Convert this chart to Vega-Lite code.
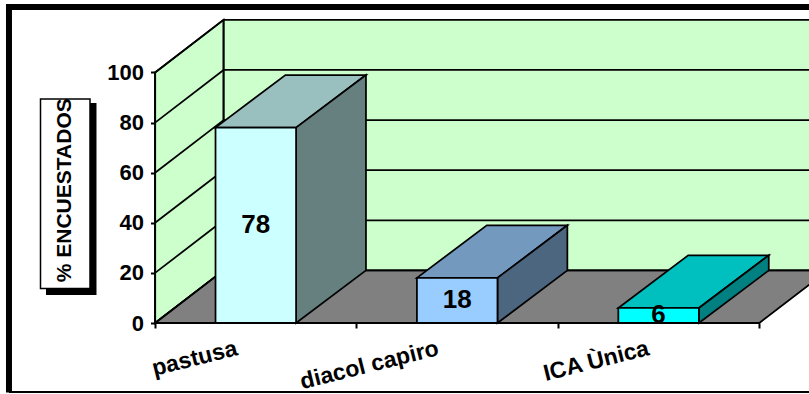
{"$schema":"https://vega.github.io/schema/vega-lite/v6.json","width":809,"height":394,"padding":0,"autosize":{"type":"none"},"background":"white","config":{"view":{"stroke":null},"font":"Liberation Sans"},"data":{"values":[{"frame":1}]},"datasets":{"bars":[{"category":"pastusa","order":0,"value":78},{"category":"diacol capiro","order":1,"value":18},{"category":"ICA Ùnica","order":2,"value":6}],"ticks":[{"tick":0},{"tick":20},{"tick":40},{"tick":60},{"tick":80},{"tick":100}],"steps":[{"step":0},{"step":1},{"step":2},{"step":3}],"depths":[{"depth":0},{"depth":1}]},"resolve":{"scale":{"color":"independent"}},"layer":[{"mark":{"type":"rect","fill":"#CCFFCC"},"encoding":{"x":{"datum":-0.16,"type":"quantitative"},"x2":{"datum":2.7468},"y":{"datum":21,"type":"quantitative"},"y2":{"datum":121}}},{"data":{"name":"depths"},"transform":[{"calculate":"-0.5+datum.depth*0.34","as":"px"},{"calculate":"datum.depth*21","as":"lo"},{"calculate":"100+datum.depth*21","as":"hi"}],"mark":{"type":"area","color":"#CCFFCC","stroke":"black","strokeWidth":1.75},"encoding":{"x":{"field":"px","type":"quantitative","scale":{"domain":[-1.2701,2.7468],"nice":false,"zero":false},"axis":{"values":[-0.5,0.5,1.5,2.5],"offset":-71,"labels":false,"domain":false,"grid":false,"title":null,"tickColor":"black","tickWidth":2,"tickSize":5}},"y":{"field":"hi","type":"quantitative","scale":{"domain":[-28.34,128.94],"nice":false,"zero":false},"axis":{"values":[0,20,40,60,80,100],"offset":-155.5,"domain":false,"grid":false,"title":null,"tickColor":"black","tickWidth":2,"tickSize":5,"labelFont":"Liberation Sans","labelFontWeight":"bold","labelFontSize":22,"labelColor":"black","labelPadding":7}},"y2":{"field":"lo"}}},{"data":{"name":"steps"},"transform":[{"calculate":"-0.5+(datum.step==0?0:datum.step==1?0.34:datum.step==2?3:3.34)","as":"px"},{"calculate":"datum.step==0?0:21","as":"hi"},{"calculate":"datum.step==3?21:0","as":"lo"}],"mark":{"type":"area","color":"#808080","stroke":"black","strokeWidth":1.75,"clip":true},"encoding":{"x":{"field":"px","type":"quantitative"},"y":{"field":"hi","type":"quantitative"},"y2":{"field":"lo"}}},{"data":{"name":"ticks"},"transform":[{"calculate":"datum.tick+21","as":"back"}],"mark":{"type":"rule","color":"black","strokeWidth":1.75},"encoding":{"x":{"datum":-0.5,"type":"quantitative"},"x2":{"datum":-0.16},"y":{"field":"tick","type":"quantitative"},"y2":{"field":"back"}}},{"data":{"name":"ticks"},"transform":[{"calculate":"datum.tick+21","as":"back"}],"mark":{"type":"rule","color":"black","strokeWidth":1.75},"encoding":{"x":{"datum":-0.16,"type":"quantitative"},"x2":{"datum":2.7468},"y":{"field":"back","type":"quantitative"}}},{"mark":{"type":"rule","color":"black","strokeWidth":1.75},"encoding":{"x":{"datum":-0.16,"type":"quantitative"},"y":{"datum":21,"type":"quantitative"},"y2":{"datum":121}}},{"data":{"name":"bars"},"transform":[{"calculate":"[0,1,2,3]","as":"step"},{"flatten":["step"]},{"calculate":"datum.order-0.2+(datum.step==0?0:datum.step==1?0.347:datum.step==2?0.4:0.747)","as":"px"},{"calculate":"datum.value+(datum.step==0?0:21)","as":"hi"},{"calculate":"datum.value+(datum.step==3?21:0)","as":"lo"}],"mark":{"type":"area","stroke":"black","strokeWidth":1.75},"encoding":{"x":{"field":"px","type":"quantitative"},"y":{"field":"hi","type":"quantitative"},"y2":{"field":"lo"},"color":{"field":"category","type":"nominal","legend":null,"scale":{"domain":["pastusa","diacol capiro","ICA Ùnica"],"range":["#99BFBF","#7399BF","#00BFBF"]}}}},{"data":{"name":"bars"},"transform":[{"calculate":"[0,1]","as":"depth"},{"flatten":["depth"]},{"calculate":"datum.order+0.2+datum.depth*0.347","as":"px"},{"calculate":"datum.value+datum.depth*21","as":"hi"},{"calculate":"datum.depth*21","as":"lo"}],"mark":{"type":"area","stroke":"black","strokeWidth":1.75},"encoding":{"x":{"field":"px","type":"quantitative"},"y":{"field":"hi","type":"quantitative"},"y2":{"field":"lo"},"color":{"field":"category","type":"nominal","legend":null,"scale":{"domain":["pastusa","diacol capiro","ICA Ùnica"],"range":["#668080","#4D6680","#008080"]}}}},{"data":{"name":"bars"},"transform":[{"calculate":"datum.order-0.2","as":"x0"},{"calculate":"datum.order+0.2","as":"x1"}],"mark":{"type":"rect","stroke":"black","strokeWidth":1.75},"encoding":{"x":{"field":"x0","type":"quantitative"},"x2":{"field":"x1"},"y":{"field":"value","type":"quantitative"},"y2":{"datum":0},"color":{"field":"category","type":"nominal","legend":null,"scale":{"domain":["pastusa","diacol capiro","ICA Ùnica"],"range":["#CCFFFF","#99CCFF","#00FFFF"]}}}},{"mark":{"type":"rule","color":"black","strokeWidth":2},"encoding":{"x":{"datum":-0.5,"type":"quantitative"},"y":{"datum":0,"type":"quantitative"},"y2":{"datum":100}}},{"mark":{"type":"rule","color":"black","strokeWidth":2},"encoding":{"x":{"datum":-0.5,"type":"quantitative"},"x2":{"datum":2.5},"y":{"datum":0,"type":"quantitative"}}},{"data":{"name":"bars"},"transform":[{"calculate":"datum.value/2","as":"mid"}],"mark":{"type":"text","font":"Liberation Sans","fontWeight":"bold","fontSize":26,"color":"black","align":"center","baseline":"middle"},"encoding":{"x":{"field":"order","type":"quantitative"},"y":{"field":"mid","type":"quantitative"},"text":{"field":"value","type":"quantitative"}}},{"data":{"name":"bars"},"transform":[{"calculate":"datum.order-(datum.order==2?0.05:0.094)","as":"labelEnd"}],"mark":{"type":"text","font":"Liberation Sans","fontWeight":"bold","fontSize":23,"color":"black","align":"right","baseline":"middle","angle":346},"encoding":{"x":{"field":"labelEnd","type":"quantitative"},"y":{"datum":-10,"type":"quantitative"},"text":{"field":"category","type":"nominal"}}},{"mark":{"type":"rect","fill":"black"},"encoding":{"x":{"datum":-1.0417,"type":"quantitative"},"x2":{"datum":-0.791},"y":{"datum":87.82,"type":"quantitative"},"y2":{"datum":11.18}}},{"mark":{"type":"rect","fill":"white","stroke":"black","strokeWidth":1.5},"encoding":{"x":{"datum":-1.069,"type":"quantitative"},"x2":{"datum":-0.8232},"y":{"datum":89.42,"type":"quantitative"},"y2":{"datum":13.77}}},{"mark":{"type":"text","text":"% ENCUESTADOS","font":"Liberation Sans","fontWeight":"bold","fontSize":21,"color":"black","align":"center","baseline":"middle","angle":270},"encoding":{"x":{"datum":-0.9474,"type":"quantitative"},"y":{"datum":53,"type":"quantitative"}}},{"mark":{"type":"rule","color":"black","strokeWidth":6},"encoding":{"x":{"datum":-1.2255,"type":"quantitative"},"y":{"datum":127.35,"type":"quantitative"},"y2":{"datum":-27.7}}},{"mark":{"type":"rule","color":"black","strokeWidth":6},"encoding":{"x":{"datum":-1.2255,"type":"quantitative"},"x2":{"datum":2.7468},"y":{"datum":126.15,"type":"quantitative"}}},{"mark":{"type":"rule","color":"black","strokeWidth":2},"encoding":{"x":{"datum":-1.2255,"type":"quantitative"},"x2":{"datum":2.7468},"y":{"datum":-27.5,"type":"quantitative"}}}]}
